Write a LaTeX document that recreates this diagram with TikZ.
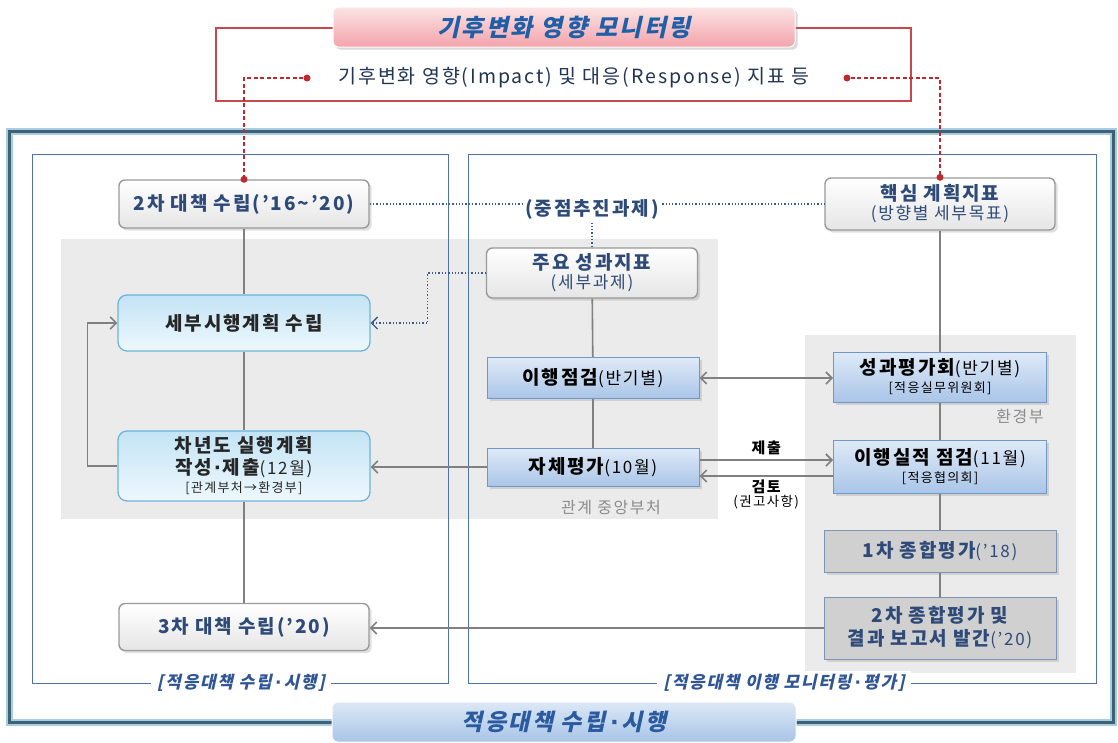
\documentclass[tikz,border=0pt]{standalone}
\usepackage{fontspec}
\setmainfont{Noto Sans CJK KR}[LetterSpace=10]
\newfontfamily\krslant{Noto Sans CJK KR}[FakeSlant=0.22,LetterSpace=10]
\newfontfamily\dotfont{DejaVu Sans}
\usetikzlibrary{positioning,calc,arrows.meta,shadows}

\definecolor{txtblue}{HTML}{2E4A78}
\definecolor{labblue}{HTML}{2F5597}
\definecolor{linegray}{HTML}{808080}
\definecolor{dotblue}{HTML}{3C5A90}
\definecolor{redline}{HTML}{C0282F}
\definecolor{frameteal}{HTML}{3B6470}
\definecolor{framehalo}{HTML}{A9CBE6}
\definecolor{panelblue}{HTML}{4F72A8}
\definecolor{shadegray}{HTML}{EBEBEB}
\definecolor{skyedge}{HTML}{6CB6DC}
\definecolor{skytop}{HTML}{C3E4F5}
\definecolor{skybot}{HTML}{EEF8FD}
\definecolor{stepedge}{HTML}{7196C8}
\definecolor{steptop}{HTML}{DFEAF7}
\definecolor{stepbot}{HTML}{A9C5E8}
\definecolor{grayedge}{HTML}{7F93B5}
\definecolor{grayfill}{HTML}{D0D0D0}
\definecolor{pinktop}{HTML}{FBE4E6}
\definecolor{pinkbot}{HTML}{F3A3AA}
\definecolor{titleblue}{HTML}{1F5FA8}
\definecolor{bartop}{HTML}{DCE8F6}
\definecolor{barbot}{HTML}{A8C4E6}
\definecolor{bartext}{HTML}{2A5AA0}
\newcommand{\maintxt}{\fontsize{19}{23}\selectfont\bfseries}
\newcommand{\subtxt}{\fontsize{17}{20}\selectfont\mdseries}
\newcommand{\smalltxt}{\fontsize{13}{15}\selectfont\mdseries}
\newcommand{\mdot}{{\dotfont\bfseries\kern0.08em·\kern0.08em}}
\newcommand{\sldot}{{\dotfont\bfseries\kern0.2em·\kern0.12em}}

\tikzset{
  whitebox/.style={draw=gray!80, line width=1.4pt, rounded corners=6pt,
    top color=white, bottom color=gray!20, drop shadow={opacity=0.25},
    text=txtblue, font=\maintxt, align=center},
  bluebox/.style={draw=skyedge, line width=1.3pt, rounded corners=9pt,
    top color=skytop, bottom color=skybot, text=black!85,
    font=\maintxt, align=center, minimum width=252pt},
  stepblue/.style={draw=stepedge, line width=1pt, top color=steptop,
    bottom color=stepbot, drop shadow={opacity=0.25}, text=black,
    font=\maintxt, align=center},
  graybox/.style={draw=grayedge, line width=1pt, fill=grayfill,
    drop shadow={opacity=0.25}, text=txtblue, font=\maintxt, align=center,
    minimum width=232pt},
  conn/.style={draw=linegray, line width=1.6pt},
  arr/.style={-{Straight Barb[length=6pt,width=12pt]}},
  dotline/.style={draw=dotblue, line width=1.3pt, dotted},
  reddash/.style={draw=redline, line width=1.3pt, dash pattern=on 4pt off 2.5pt},
  reddot/.style={circle, fill=redline, inner sep=0pt, minimum size=7pt},
  panel/.style={draw=panelblue, line width=0.8pt},
  panellabel/.style={fill=white, text=labblue, inner xsep=6pt,
    font=\krslant\fontsize{17}{20}\selectfont\bfseries},
  note/.style={text=gray!90, font=\fontsize{16}{19}\selectfont\mdseries},
}

\begin{document}
\begin{tikzpicture}[x=1pt,y=-1pt]
\useasboundingbox (0,0) rectangle (1118,742);

% outer frame
\draw[line width=7pt, framehalo] (9,131) rectangle (1113,722);
\draw[line width=3pt, frameteal] (9,131) rectangle (1113,722);

% shaded areas
\fill[shadegray] (61,239) rectangle (718,519);
\fill[shadegray] (805,335) rectangle (1076,673);

% panels
\draw[panel] (32,154) rectangle (448,683);
\draw[panel] (468,154) rectangle (1096,683);
\node[panellabel] (leftlab) at (241,683) {[적응대책 수립\sldot 시행]};
\node[panellabel] (rightlab) at (784,683) {[적응대책 이행 모니터링\sldot 평가]};

% monitoring box
\draw[draw=redline!85, line width=1.6pt] (216,28) rectangle (911,101);
\node[draw=white, line width=1pt, rounded corners=5pt, top color=pinktop,
  bottom color=pinkbot, drop shadow={opacity=0.3}, minimum width=462pt,
  minimum height=40pt, text=titleblue,
  font=\krslant\fontsize{24}{28}\selectfont\bfseries] (title) at (564,27)
  {기후변화 영향 모니터링};
\node[text=txtblue!70!black, font=\fontsize{19.5}{22}\selectfont\mdseries] (impact)
  at (574,78) {기후변화 영향(Impact) 및 대응(Response) 지표 등};
\node[reddot] (dotL) at (307,78) {};
\node[reddot] (dotR) at (847,78) {};

% left column
\node[whitebox, minimum width=250pt, minimum height=48pt] (plan2)
  at (244,204) {2차 대책 수립(’16\textasciitilde’20)};
\node[bluebox, minimum height=56pt] (detail) at (244,323) {세부시행계획 수립};
\node[bluebox, minimum height=70pt, inner sep=1pt] (nextyr) at (244,466)
  {차년도 실행계획\\[-1pt] 작성\mdot 제출{\subtxt(12월)}\\[-5pt] {\smalltxt[관계부처→환경부]}};
\node[whitebox, minimum width=250pt, minimum height=47pt] (plan3)
  at (244,627) {3차 대책 수립(’20)};

% middle column
\node[text=txtblue, font=\maintxt] (focus) at (592,209) {(중점추진과제)};
\node[whitebox, minimum width=211pt, minimum height=50pt, inner sep=1pt]
  (kpi) at (592,273) {주요 성과지표\\[-4pt] {\subtxt(세부과제)}};
\node[stepblue, minimum width=212pt, minimum height=41pt] (check)
  at (593,378) {이행점검{\subtxt(반기별)}};
\node[stepblue, minimum width=212pt, minimum height=38pt] (selfev)
  at (593,467) {자체평가{\subtxt(10월)}};
\node[note] (minist) at (611,508) {관계 중앙부처};

% right column
\node[whitebox, minimum width=230pt, minimum height=52pt, inner sep=1pt]
  (core) at (940,204) {핵심 계획지표\\[-4pt] {\subtxt(방향별 세부목표)}};
\node[stepblue, minimum width=213pt, minimum height=50pt, inner sep=1pt]
  (perf) at (940,377) {성과평가회{\subtxt(반기별)}\\[-5pt] {\smalltxt[적응실무위원회]}};
\node[note] (moe) at (1020,416) {환경부};
\node[stepblue, minimum width=213pt, minimum height=53pt, inner sep=1pt]
  (perfchk) at (940,467) {이행실적 점검{\subtxt(11월)}\\[-5pt] {\smalltxt[적응협의회]}};
\node[graybox, minimum height=42pt] (final1) at (940,551) {1차 종합평가{\subtxt(’18)}};
\node[graybox, minimum height=62pt, inner sep=1pt] (final2) at (940,628)
  {2차 종합평가 및\\ 결과 보고서 발간{\subtxt(’20)}};

% bottom label
\node[draw=white, line width=1pt, rounded corners=6pt, top color=bartop,
  bottom color=barbot, minimum width=464pt, minimum height=40pt,
  text=bartext, font=\krslant\fontsize{23}{27}\selectfont\bfseries]
  (bottomlab) at (564,722) {적응대책 수립\sldot 시행};

% connectors
\draw[conn] (plan2) -- (detail);
\draw[conn] (detail) -- (nextyr);
\draw[conn] (nextyr) -- (plan3);
\draw[conn, arr] (nextyr.west) -- ++(-30,0) |- (detail.west);
\draw[conn] (kpi) -- (check);
\draw[conn] (check) -- (selfev);
\draw[conn] (core) -- (perf);
\draw[conn] (perf) -- (perfchk);
\draw[conn] (perfchk) -- (final1);
\draw[conn] (final1) -- (final2);
\draw[conn, {Straight Barb[length=6pt,width=12pt]}-{Straight Barb[length=6pt,width=12pt]}]
  (check.east) -- (check.east -| perf.west);
\coordinate (subA) at ([yshift=7pt]selfev.east);
\coordinate (revA) at ([yshift=-9pt]perfchk.west);
\draw[conn, arr] (subA) -- (subA -| perfchk.west)
  node[midway, above=1pt, text=black, font=\fontsize{15}{18}\selectfont\bfseries] (submit) {제출};
\draw[conn, arr] (revA) -- (revA -| selfev.east)
  node[midway, below=0pt, text=black, align=center, font=\fontsize{15}{18}\selectfont\bfseries]
  (review) {검토\\[-4pt] {\fontsize{13.5}{16}\selectfont\mdseries(권고사항)}};
\draw[conn, arr] (selfev.west) -- (selfev.west -| nextyr.east);
\draw[conn, arr] (final2.west) -- (final2.west -| plan3.east);

% dotted links
\draw[dotline] (plan2.east) -- (plan2.east -| focus.west);
\draw[dotline] (core.west -| focus.east) -- (core.west);
\draw[dotline] (focus.south) -- (kpi.north);
\draw[dotline, -{Straight Barb[length=6pt,width=12pt]}] (kpi.west) -- ++(-58,0) |- (detail.east);

% red links
\draw[reddash] (dotL) -| (plan2.north);
\draw[reddash] (dotR) -| (core.north);
\node[reddot] (dotP) at (plan2.north) {};
\node[reddot] (dotC) at (core.north) {};
\end{tikzpicture}
\end{document}
